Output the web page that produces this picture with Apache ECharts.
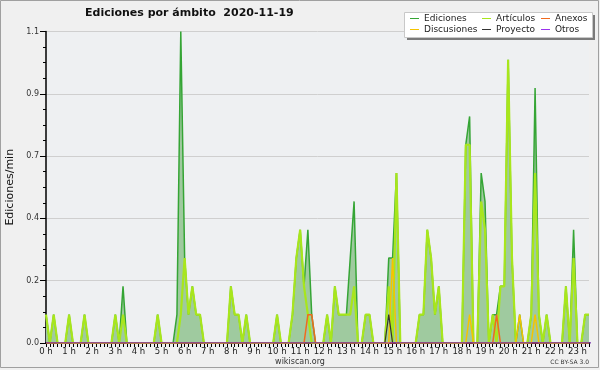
<!DOCTYPE html>
<html>
<head>
<meta charset="utf-8">
<script src="https://cdn.jsdelivr.net/npm/echarts@6/dist/echarts.min.js"></script>
<style>
html,body{margin:0;padding:0;background:#ffffff;}
#c{width:600px;height:370px;}
</style>
</head>
<body>
<div id="c"></div>
<script>
// Hour tick labels (one every 6 ten-minute slots)
const hourLabels = ['0 h','1 h','2 h','3 h','4 h','5 h','6 h','7 h','8 h','9 h','10 h','11 h',
  '12 h','13 h','14 h','15 h','16 h','17 h','18 h','19 h','20 h','21 h','22 h','23 h'];

// Edits per minute, one value per 10-minute slot (rows = hours)
const ediciones = [
  0.1,0,0.1,0,0,0,
  0.1,0,0,0,0.1,0,
  0,0,0,0,0,0,
  0.1,0,0.2,0,0,0,
  0,0,0,0,0,0.1,
  0,0,0,0,0.1,1.1,
  0.3,0.1,0.2,0.1,0.1,0,
  0,0,0,0,0,0,
  0.2,0.1,0.1,0,0.1,0,
  0,0,0,0,0,0,
  0.1,0,0,0,0.1,0.3,
  0.4,0.2,0.4,0.1,0,0,
  0,0.1,0,0.2,0.1,0.1,
  0.1,0.3,0.5,0,0,0.1,
  0.1,0,0,0,0,0.3,
  0.3,0.6,0,0,0,0,
  0,0.1,0.1,0.4,0.3,0.1,
  0.2,0,0,0,0,0,
  0,0.7,0.8,0,0,0.6,
  0.5,0,0.1,0.1,0.2,0.2,
  1.0,0.3,0,0.1,0,0,
  0.1,0.9,0.1,0,0.1,0,
  0,0,0,0.2,0,0.4,
  0,0,0.1,0.1
];
const articulos = [
  0.1,0,0.1,0,0,0,
  0.1,0,0,0,0.1,0,
  0,0,0,0,0,0,
  0.1,0,0.1,0,0,0,
  0,0,0,0,0,0.1,
  0,0,0,0,0,0.1,
  0.3,0.1,0.2,0.1,0.1,0,
  0,0,0,0,0,0,
  0.2,0.1,0.1,0,0.1,0,
  0,0,0,0,0,0,
  0.1,0,0,0,0.1,0.3,
  0.4,0.2,0.1,0,0,0,
  0,0.1,0,0.2,0.1,0.1,
  0.1,0.1,0.2,0,0,0.1,
  0.1,0,0,0,0,0.2,
  0,0.6,0,0,0,0,
  0,0.1,0.1,0.4,0.3,0.1,
  0.2,0,0,0,0,0,
  0,0.7,0.7,0,0,0.5,
  0.4,0,0.1,0,0.2,0.2,
  1.0,0.3,0,0,0,0,
  0.1,0.6,0.1,0,0.1,0,
  0,0,0,0.2,0,0.3,
  0,0,0.1,0.1
];
const anexos = [
  0,0,0,0,0,0, 0,0,0,0,0,0, 0,0,0,0,0,0, 0,0,0,0,0,0,
  0,0,0,0,0,0, 0,0,0,0,0,0, 0,0,0,0,0,0, 0,0,0,0,0,0,
  0,0,0,0,0,0, 0,0,0,0,0,0, 0,0,0,0,0,0,
  0,0,0.1,0.1,0,0,
  0,0,0,0,0,0, 0,0,0,0,0,0, 0,0,0,0,0,0, 0,0,0,0,0,0,
  0,0,0,0,0,0, 0,0,0,0,0,0, 0,0,0,0,0,0,
  0,0,0,0.1,0,0,
  0,0,0,0,0,0, 0,0,0,0,0,0, 0,0,0,0,0,0,
  0,0,0,0
];
const discusiones = [
  0,0,0,0,0,0, 0,0,0,0,0,0, 0,0,0,0,0,0, 0,0,0,0,0,0,
  0,0,0,0,0,0, 0,0,0,0,0,0, 0,0,0,0,0,0, 0,0,0,0,0,0,
  0,0,0,0,0,0, 0,0,0,0,0,0, 0,0,0,0,0,0, 0,0,0,0,0,0,
  0,0,0,0,0,0, 0,0,0,0,0,0, 0,0,0,0,0,0,
  0.3,0,0,0,0,0,
  0,0,0,0,0,0, 0,0,0,0,0,0,
  0,0,0.1,0,0,0,
  0,0,0,0,0,0,
  0,0,0,0.1,0,0,
  0,0.1,0,0,0,0,
  0,0,0,0,0,0,
  0,0,0,0
];
const proyecto = [
  0,0,0,0,0,0, 0,0,0,0,0,0, 0,0,0,0,0,0, 0,0,0,0,0,0,
  0,0,0,0,0,0, 0,0,0,0,0,0, 0,0,0,0,0,0, 0,0,0,0,0,0,
  0,0,0,0,0,0, 0,0,0,0,0,0, 0,0,0,0,0,0, 0,0,0,0,0,0,
  0,0,0,0,0,0, 0,0,0,0,0,0,
  0,0,0,0,0,0.1,
  0,0,0,0,0,0, 0,0,0,0,0,0, 0,0,0,0,0,0, 0,0,0,0,0,0,
  0,0,0,0,0,0, 0,0,0,0,0,0, 0,0,0,0,0,0, 0,0,0,0,0,0,
  0,0,0,0,0,0,
  0,0,0,0
];
const otros = [
  0,0,0,0,0,0, 0,0,0,0,0,0, 0,0,0,0,0,0, 0,0,0,0,0,0,
  0,0,0,0,0,0, 0,0,0,0,0,0, 0,0,0,0,0,0, 0,0,0,0,0,0,
  0,0,0,0,0,0, 0,0,0,0,0,0, 0,0,0,0,0,0, 0,0,0,0,0,0,
  0,0,0,0,0,0, 0,0,0,0,0,0, 0,0,0,0,0,0, 0,0,0,0,0,0,
  0,0,0,0,0,0, 0,0,0,0,0,0, 0,0,0,0,0,0, 0,0,0,0,0,0,
  0,0,0,0,0,0, 0,0,0,0,0,0, 0,0,0,0,0,0, 0,0,0,0,0,0,
  0,0,0,0
];
const seriesNames = ['Ediciones','Artículos','Anexos','Discusiones','Proyecto','Otros'];

// category slots (10-minute steps)
const slots = ediciones.map(function(_, i){
  const h = Math.floor(i / 6), m = (i % 6) * 10;
  return (h < 10 ? '0' : '') + h + ':' + (m < 10 ? '0' : '') + m;
});

const FONT = 'DejaVu Sans';
const chart = echarts.init(document.getElementById('c'), null, {renderer: 'canvas'});

function lineSeries(name, data, color, width, extra) {
  return Object.assign({
    name: name, type: 'line', data: data, symbol: 'none', silent: true,
    lineStyle: {color: color, width: width}, itemStyle: {color: color},
    animation: false
  }, extra || {});
}

function legendCol(left, names) {
  return {
    data: names, orient: 'vertical', left: left, top: 8, padding: 5,
    icon: 'rect', itemWidth: 9, itemHeight: 1, itemGap: 0,
    selectedMode: false, z: 60,
    textStyle: {fontFamily: FONT, fontSize: 9, color: '#222', lineHeight: 11}
  };
}

chart.setOption({
  backgroundColor: '#f0f0f0',
  animation: false,
  title: {
    text: 'Ediciones por ámbito  2020-11-19',
    left: 80, top: 3,
    textStyle: {fontFamily: FONT, fontSize: 11, fontWeight: 'bold', color: '#111'}
  },
  graphic: [
    {type: 'rect', shape: {x: 0.5, y: 0.5, width: 598, height: 367}, style: {fill: null, stroke: '#a0a0a0', lineWidth: 1}, silent: true, z: 100},
    {type: 'rect', shape: {x: 407, y: 15, width: 188, height: 25}, style: {fill: '#7a7a7a'}, silent: true, z: 50},
    {type: 'rect', shape: {x: 404.5, y: 12.5, width: 188, height: 25}, style: {fill: '#ffffff', stroke: '#c8c8c8', lineWidth: 1}, silent: true, z: 51},
    {type: 'text', x: 300, y: 362, style: {text: 'wikiscan.org', fontFamily: FONT, fontSize: 8, fill: '#333', textAlign: 'center', textVerticalAlign: 'middle'}, silent: true, z: 60},
    {type: 'text', x: 589, y: 362, style: {text: 'CC BY-SA 3.0', fontFamily: FONT, fontSize: 6, fill: '#333', textAlign: 'right', textVerticalAlign: 'middle'}, silent: true, z: 60}
  ],
  legend: [
    legendCol(405, ['Ediciones','Discusiones']),
    legendCol(477, ['Artículos','Proyecto']),
    legendCol(536, ['Anexos','Otros'])
  ],
  grid: {
    left: 46, right: 11, top: 31.5, bottom: 27,
    containLabel: false, outerBoundsMode: 'none',
    show: true, backgroundColor: '#eef0f2', borderWidth: 0
  },
  xAxis: {
    type: 'category', data: slots, boundaryGap: false, z: 3,
    axisLine: {lineStyle: {color: '#000', width: 2}},
    axisTick: {show: true, interval: 0, length: 4, lineStyle: {color: '#000', width: 1}},
    axisLabel: {
      interval: function(idx){ return idx % 6 === 0; },
      formatter: function(v, idx){ return idx % 6 === 0 ? hourLabels[idx / 6] : ''; },
      fontFamily: FONT, fontSize: 8.5, color: '#222', margin: 4
    },
    splitLine: {show: false}
  },
  yAxis: {
    type: 'value', min: 0, max: 1.1, interval: 0.22,
    name: 'Ediciones/min', nameLocation: 'middle', nameGap: 30,
    nameTextStyle: {fontFamily: FONT, fontSize: 11, color: '#111'},
    axisLine: {show: true, lineStyle: {color: '#000', width: 1.5}},
    axisTick: {show: true, length: 6, lineStyle: {color: '#000'}},
    minorTick: {show: true, splitNumber: 4, length: 3, lineStyle: {color: '#000'}},
    axisLabel: {
      formatter: function(v){ return v.toFixed(1); },
      fontFamily: FONT, fontSize: 8, color: '#333', margin: 7
    },
    splitLine: {show: true, lineStyle: {color: '#cfcfcf', width: 1}}
  },
  series: [
    lineSeries(seriesNames[0], ediciones, '#35a535', 1.5, {areaStyle: {color: '#9fca9f', opacity: 1}}),
    lineSeries(seriesNames[1], articulos, '#a8e61c', 2.2),
    lineSeries(seriesNames[2], anexos, '#f06a1e', 1.5),
    lineSeries(seriesNames[3], discusiones, '#f5c400', 1.5),
    lineSeries(seriesNames[4], proyecto, '#333333', 1.2),
    lineSeries(seriesNames[5], otros, '#9a33ee', 1.2)
  ]
});
</script>
</body>
</html>
